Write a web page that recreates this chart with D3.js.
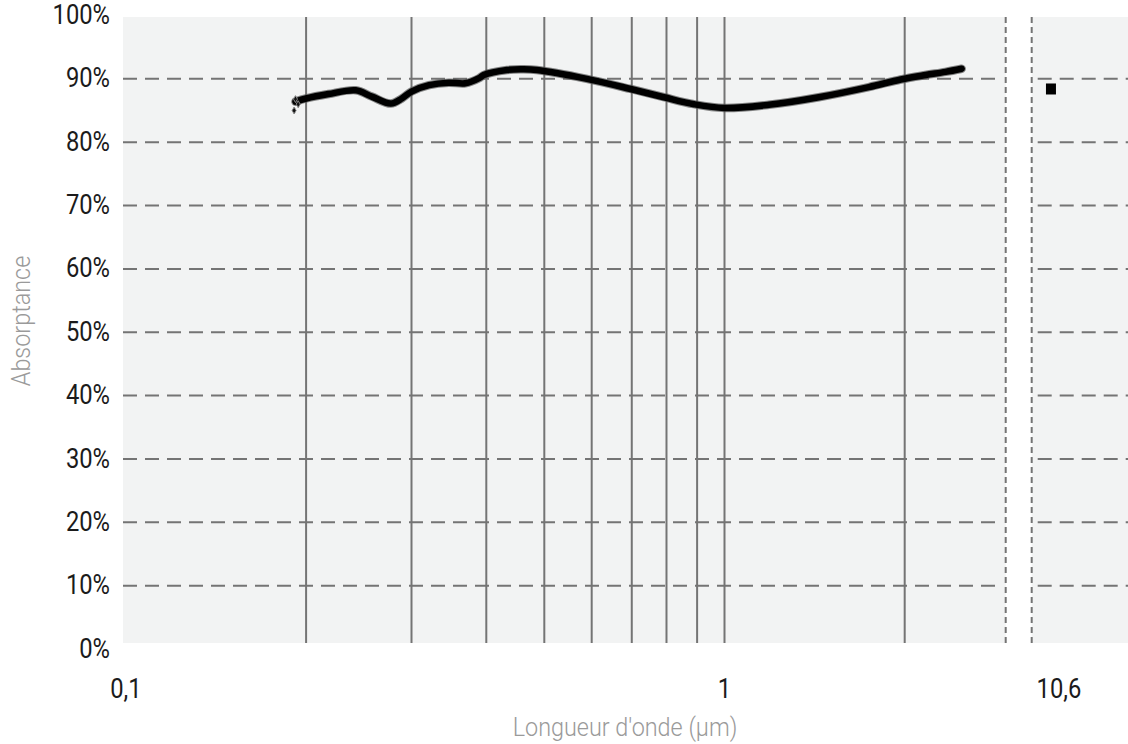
<!DOCTYPE html>
<html><head><meta charset="utf-8">
<script src="https://cdn.jsdelivr.net/npm/d3@7"></script>
<style>
body{margin:0;background:#fff}
svg{display:block}
text{font-family:Roboto,"Noto Sans",sans-serif}
</style>
</head><body>
<script>
// ---- data ----
const wavelengths = [0.192,0.200,0.218,0.242,0.2575,0.277,0.289,0.300,0.321,0.346,0.369,0.389,0.396,0.433,0.460,0.486,0.589,0.697,0.792,0.889,1.000,1.186,1.437,1.742,1.970,2.167,2.340,2.490];
const absorptance = [86.4,86.9,87.6,88.2,87.2,86.1,86.9,88.0,89.0,89.4,89.3,90.1,90.6,91.4,91.5,91.4,90.0,88.4,87.1,86.0,85.4,85.9,87.1,88.7,89.9,90.6,91.1,91.6];
const startNoiseWl = [0.191,0.192,0.194];
const startNoiseAbs = [85.0,86.8,86.0];
const co2Wavelength = [10.6];
const co2Absorptance = [88.4];
const yTicks = [0,10,20,30,40,50,60,70,80,90,100];
const xGridValues = [0.2,0.3,0.4,0.5,0.6,0.7,0.8,0.9,1,2];
const xTickValues = [0.1,1];
const xTickLabels = ["0,1","1"];
const co2TickLabels = ["10,6"];

// ---- layout ----
const W = 1128, H = 744;
const plotLeft = 123, plotTop = 17, plotBottom = 643;
const breakL = 1005.7, breakR = 1031.7, plotRight = 1128;

const svg = d3.select("body").append("svg").attr("width", W).attr("height", H);

const x = d3.scaleLog().domain([0.1, 1]).range([125.9, 724.5]);
const x2 = d3.scaleLinear().domain([10.4, 11.4]).range([breakR, plotRight]);
const y = d3.scaleLinear().domain([0, 100]).range([649, 15.5]);

const grid = "#747474";

// backgrounds
svg.append("rect").attr("x", plotLeft).attr("y", plotTop)
  .attr("width", breakL - plotLeft).attr("height", plotBottom - plotTop).attr("fill", "#f2f3f3");
svg.append("rect").attr("x", breakR).attr("y", plotTop)
  .attr("width", plotRight - breakR).attr("height", plotBottom - plotTop).attr("fill", "#f2f3f3");

// horizontal dashed gridlines (both panels)
const hg = svg.append("g");
[[plotLeft, breakL - 6], [breakR + 6, plotRight]].forEach(([a, b]) => {
  hg.selectAll(null).data(yTicks.filter(d => d > 0 && d < 100)).join("line")
    .attr("x1", a).attr("x2", b)
    .attr("y1", d => y(d)).attr("y2", d => y(d))
    .attr("stroke", grid).attr("stroke-width", 2).attr("stroke-dasharray", "14,8");
});

// vertical solid gridlines
svg.append("g").selectAll("line").data(xGridValues).join("line")
  .attr("x1", d => x(d)).attr("x2", d => x(d))
  .attr("y1", plotTop).attr("y2", plotBottom)
  .attr("stroke", grid).attr("stroke-width", 2);

// axis break dashed lines
svg.append("g").selectAll("line").data([breakL, breakR]).join("line")
  .attr("x1", d => d).attr("x2", d => d)
  .attr("y1", plotTop).attr("y2", plotBottom)
  .attr("stroke", grid).attr("stroke-width", 2).attr("stroke-dasharray", "6,4");

// curve
const pts = wavelengths.map((w, i) => [w, absorptance[i]]);
const line = d3.line().x(d => x(d[0])).y(d => y(d[1])).curve(d3.curveCatmullRom.alpha(0.5));
svg.append("path").datum(pts).attr("d", line).attr("fill", "none")
  .attr("stroke", "#555").attr("stroke-opacity", 0.7).attr("stroke-width", 8.5)
  .attr("stroke-linecap", "round").attr("stroke-linejoin", "round");
svg.append("path").datum(pts).attr("d", line).attr("fill", "none")
  .attr("stroke", "#000").attr("stroke-width", 6.5)
  .attr("stroke-linecap", "round").attr("stroke-linejoin", "round");

// noisy start points
svg.append("g").selectAll("path").data(startNoiseWl.map((w, i) => [w, startNoiseAbs[i]])).join("path")
  .attr("d", d3.symbol(d3.symbolDiamond, 14))
  .attr("transform", d => `translate(${x(d[0])},${y(d[1])})`)
  .attr("fill", "#111").attr("stroke", "#888").attr("stroke-width", 1);

// 10.6 point
svg.append("g").selectAll("rect").data(co2Wavelength.map((w, i) => [w, co2Absorptance[i]])).join("rect")
  .attr("x", d => x2(d[0]) - 5).attr("y", d => y(d[1]) - 5.5)
  .attr("width", 10).attr("height", 11).attr("fill", "#000");

// tick label helper (condensed look)
function tickText(g, data, fx, fy, anchor, label) {
  g.selectAll("text").data(data).join("text")
    .attr("transform", (d, i) => `translate(${fx(d, i)},${fy(d, i)}) scale(0.88,1)`)
    .attr("text-anchor", anchor).attr("dominant-baseline", "central")
    .attr("font-size", 27).attr("fill", "#1b1b1b")
    .text(label);
}
tickText(svg.append("g"), yTicks, () => 110, d => y(d) - 1, "end", d => d + "%");
tickText(svg.append("g"), xTickValues, d => x(d), () => 688, "middle", (d, i) => xTickLabels[i]);
tickText(svg.append("g"), co2Wavelength, d => x2(d) + 8, () => 688, "middle", (d, i) => co2TickLabels[i]);

// axis titles
svg.append("text").attr("transform", "translate(625,736) scale(0.9,1)")
  .attr("text-anchor", "middle").attr("font-size", 26).attr("font-weight", 300)
  .attr("fill", "#9a9a9a")
  .text("Longueur d'onde (µm)");
svg.append("text").attr("transform", "translate(30,321) rotate(-90) scale(0.9,1)")
  .attr("text-anchor", "middle").attr("font-size", 26).attr("font-weight", 300)
  .attr("fill", "#9a9a9a")
  .text("Absorptance");
</script>
</body></html>
